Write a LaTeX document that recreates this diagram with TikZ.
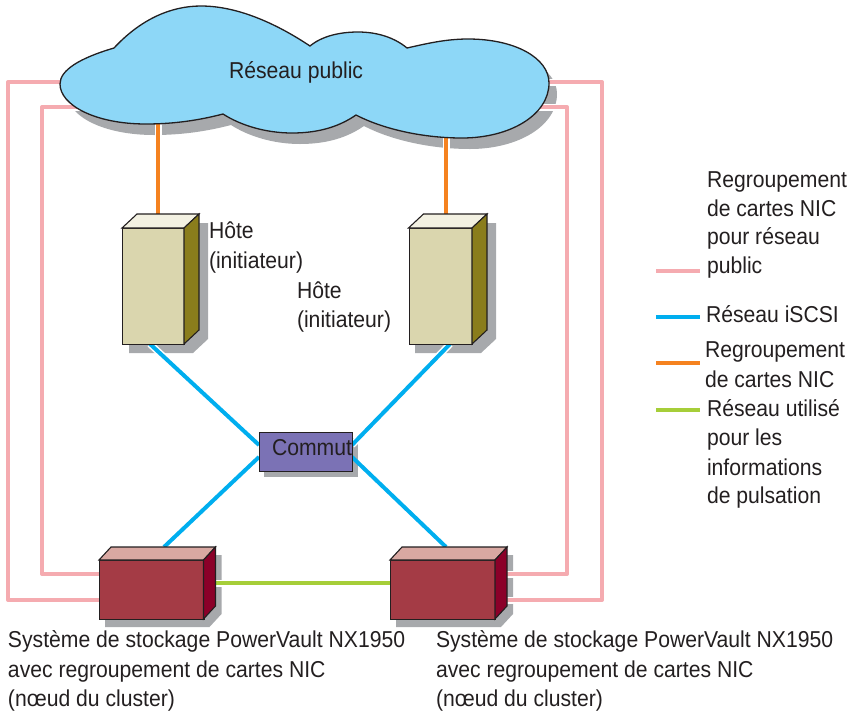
\documentclass[tikz,border=0pt]{standalone}
\usepackage{fontspec}
\setmainfont[FakeStretch=0.92]{Liberation Sans}
\definecolor{pinkL}{HTML}{F5ABB0}
\definecolor{blueL}{HTML}{00AEEF}
\definecolor{orangeL}{HTML}{F58220}
\definecolor{greenL}{HTML}{A6CE39}
\definecolor{shadowC}{HTML}{A7A9AC}
\definecolor{cloudC}{HTML}{8DD7F7}
\definecolor{inkC}{HTML}{231F20}
\definecolor{hostF}{HTML}{DAD6AE}
\definecolor{hostT}{HTML}{F3F1E2}
\definecolor{hostS}{HTML}{8A7D1C}
\definecolor{storF}{HTML}{A43B45}
\definecolor{storT}{HTML}{D9A8A2}
\definecolor{storS}{HTML}{8B0029}
\definecolor{swF}{HTML}{7B72B5}
\tikzset{
  x=1pt,y=-1pt,
  label/.style={anchor=base west,inner sep=0pt,outer sep=0pt,text=inkC,font=\fontsize{23}{23}\selectfont},
  outl/.style={draw=inkC,line width=1.1pt,line join=miter},
  pinkline/.style={draw=pinkL,line width=4pt,line join=round},
  blueline/.style={draw=blueL,line width=4pt},
  orangeline/.style={draw=orangeL,line width=4pt},
  greenline/.style={draw=greenL,line width=4pt},
  halo/.style={draw=white,line width=7pt},
}
% silhouette of a box: #1 x0, #2 y0, #3 x1, #4 y1, #5 depth x, #6 depth y
\newcommand{\boxshadow}[6]{\fill[shadowC] (#1,#2) -- (#1+#5,#2-#6) -- (#3+#5,#2-#6) -- (#3+#5,#4-#6) -- (#3,#4) -- (#1,#4) -- cycle;}
% front as a named node, with top and side faces
\newcommand{\boxfaces}[9]{%
  \node[outl,fill=#7,rectangle,inner sep=0pt,minimum width=#3pt-#1pt,minimum height=#4pt-#2pt,anchor=north west] (#9) at (#1,#2) {};
  \filldraw[outl,fill=#8] (#1,#2) -- (#1+#5,#2-#6) -- (#3+#5,#2-#6) -- (#3,#2) -- cycle;
  \filldraw[outl,fill=\sidecol] (#3,#2) -- (#3+#5,#2-#6) -- (#3+#5,#4-#6) -- (#3,#4) -- cycle;
}
\def\cloudpath{(114,48) .. controls (140,20) and (170,6) .. (201,6) .. controls (240,6) and (280,26) .. (310,46)
  .. controls (322,36) and (340,32) .. (358,32) .. controls (378,32) and (395,38) .. (407,48)
  .. controls (425,44) and (445,39) .. (468,39) .. controls (515,39) and (549,58) .. (549,83)
  .. controls (549,115) and (510,138) .. (462,138) .. controls (425,138) and (385,130) .. (356,115)
  .. controls (340,126) and (320,133) .. (292,133) .. controls (265,133) and (240,125) .. (223,114)
  .. controls (200,120) and (175,124) .. (146,124) .. controls (95,124) and (60,105) .. (60,84)
  .. controls (60,70) and (80,58) .. (114,48) -- cycle}
\begin{document}
\begin{tikzpicture}
\useasboundingbox (0,0) rectangle (851,710);
% connector ends
\coordinate (cloudA) at (158,120);
\coordinate (cloudB) at (446,132);
\coordinate (hostAtop) at (158,216);
\coordinate (hostBtop) at (446,216);
\coordinate (hostAbot) at (150,344);
\coordinate (hostBbot) at (450,344);
\coordinate (swUL) at (259,445);
\coordinate (swLL) at (259,457);
\coordinate (swUR) at (352,445);
\coordinate (swLR) at (352,457);
\coordinate (storAtop) at (164,547);
\coordinate (storBtop) at (446,547);
\coordinate (storAright) at (215,583);
\coordinate (storBleft) at (390,583);
\coordinate (pubOutL) at (80,82);
\coordinate (pubInL) at (90,107);
\coordinate (pubOutR) at (530,82);
\coordinate (pubInR) at (530,107);
\coordinate (cornOutL1) at (8,82);
\coordinate (cornOutL2) at (8,600);
\coordinate (cornInL1) at (42,107);
\coordinate (cornInL2) at (42,574);
\coordinate (cornOutR1) at (602,82);
\coordinate (cornOutR2) at (602,600);
\coordinate (cornInR1) at (567,107);
\coordinate (cornInR2) at (567,574);
\coordinate (storAout) at (110,600);
\coordinate (storAin) at (110,574);
\coordinate (storBout) at (500,600);
\coordinate (storBin) at (500,574);
% shadows
\fill[shadowC,shift={(8,11)}] \cloudpath;
\boxshadow{129}{237}{193}{353}{15}{14}
\boxshadow{415}{237}{481}{353}{15}{14}
\fill[shadowC] (264,438) rectangle (358,477);
\boxshadow{105}{568}{209.5}{627}{12}{13}
\boxshadow{396}{568}{501}{627}{12}{13}
% white clearances where lines cross shadows
\draw[halo] (cloudA) -- (hostAtop);
\draw[halo] (cloudB) -- (hostBtop);
\draw[halo] (hostAbot) -- (swUL);
\draw[halo] (hostBbot) -- (swUR);
\draw[halo] (storAright) -- (storBleft);
\draw[halo] (pubOutR) -- (cornOutR1) -- (cornOutR2) -- (storBout);
\draw[halo] (pubInR) -- (cornInR1) -- (cornInR2) -- (storBin);
\draw[halo] (pubInL) -- (cornInL1) -- (cornInL2) -- (storAin);
% connectors
\draw[pinkline] (pubOutL) -- (cornOutL1) -- (cornOutL2) -- (storAout);
\draw[pinkline] (pubInL) -- (cornInL1) -- (cornInL2) -- (storAin);
\draw[pinkline] (pubOutR) -- (cornOutR1) -- (cornOutR2) -- (storBout);
\draw[pinkline] (pubInR) -- (cornInR1) -- (cornInR2) -- (storBin);
\draw[orangeline] (cloudA) -- (hostAtop);
\draw[orangeline] (cloudB) -- (hostBtop);
\draw[blueline] (hostAbot) -- (swUL);
\draw[blueline] (hostBbot) -- (swUR);
\draw[blueline] (storAtop) -- (swLL);
\draw[blueline] (storBtop) -- (swLR);
\draw[greenline] (storAright) -- (storBleft);
% cloud
\filldraw[fill=cloudC,draw=inkC,line width=1.3pt] \cloudpath;
\node[label] (cloudT) at (229,78) {Réseau public};
% hosts
\def\sidecol{hostS}
\boxfaces{122}{228}{184}{344}{15}{14}{hostF}{hostT}{hostA}
\boxfaces{408.5}{228}{472}{344}{15}{14}{hostF}{hostT}{hostB}
% storage
\def\sidecol{storS}
\boxfaces{99}{560}{203.5}{619}{12}{13}{storF}{storT}{storA}
\boxfaces{390}{560}{495}{619}{12}{13}{storF}{storT}{storB}
% switch
\node[outl,fill=swF,rectangle,inner sep=0pt,minimum width=93pt,minimum height=39pt,anchor=north west] (sw) at (259,432) {};
\node[label] (swT) at (272,455) {Commut};
% host labels
\node[label] (hA1) at (209,238) {Hôte};
\node[label] (hA2) at (209,268) {(initiateur)};
\node[label] (hB1) at (297,298) {Hôte};
\node[label] (hB2) at (297,327) {(initiateur)};
% storage labels
\node[label] (sA1) at (8,647) {Système de stockage PowerVault NX1950};
\node[label] (sA2) at (8,677) {avec regroupement de cartes NIC};
\node[label] (sA3) at (8,706) {(nœud du cluster)};
\node[label] (sB1) at (436,647) {Système de stockage PowerVault NX1950};
\node[label] (sB2) at (436,677) {avec regroupement de cartes NIC};
\node[label] (sB3) at (436,706) {(nœud du cluster)};
% legend
\coordinate (lp1) at (656,271); \coordinate (lp2) at (700,271);
\coordinate (lb1) at (656,317); \coordinate (lb2) at (700,317);
\coordinate (lo1) at (656,363); \coordinate (lo2) at (700,363);
\coordinate (lg1) at (656,410); \coordinate (lg2) at (700,410);
\draw[pinkline] (lp1) -- (lp2);
\draw[blueline] (lb1) -- (lb2);
\draw[orangeline] (lo1) -- (lo2);
\draw[greenline] (lg1) -- (lg2);
\node[label] (l1) at (707,187) {Regroupement};
\node[label] (l2) at (707,216) {de cartes NIC};
\node[label] (l3) at (707,244) {pour réseau};
\node[label] (l4) at (707,273) {public};
\node[label] (l5) at (706,322) {Réseau iSCSI};
\node[label] (l6) at (705,357) {Regroupement};
\node[label] (l7) at (705,387) {de cartes NIC};
\node[label] (l8) at (707,416) {Réseau utilisé};
\node[label] (l9) at (707,445) {pour les};
\node[label] (l10) at (707,475) {informations};
\node[label] (l11) at (707,503) {de pulsation};
\end{tikzpicture}
\end{document}
